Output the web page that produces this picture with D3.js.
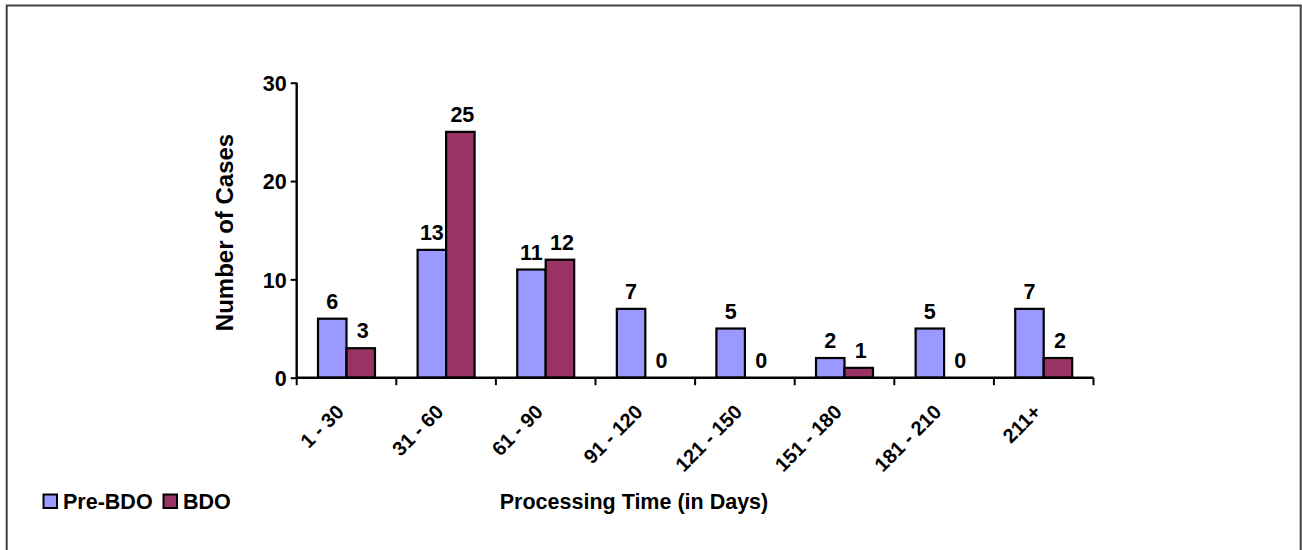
<!DOCTYPE html>
<html>
<head>
<meta charset="utf-8">
<script src="https://cdn.jsdelivr.net/npm/d3@7"></script>
<style>
  body { margin: 0; background: #fff; }
  text { font-family: "Liberation Sans", Arial, sans-serif; font-weight: bold; fill: #000; }
</style>
</head>
<body>
<div id="chart"></div>
<script>
// values
const categories = ["1 - 30", "31 - 60", "61 - 90", "91 - 120", "121 - 150", "151 - 180", "181 - 210", "211+"];
const seriesNames = ["Pre-BDO", "BDO"];
const preBDO = [6, 13, 11, 7, 5, 2, 5, 7];
const bdo = [3, 25, 12, 0, 0, 1, 0, 2];
const yTicks = [0, 10, 20, 30];

const width = 1302,
    height = 550;

const colors = { "Pre-BDO": "#9999FF", "BDO": "#993366" };

const rows = categories.map((c, i) => ({ cat: c, "Pre-BDO": preBDO[i], "BDO": bdo[i] }));

const svg = d3.select("#chart")
    .append("svg")
    .attr("width", width)
    .attr("height", height);

// frame
svg.append("rect")
    .attr("x", 6.7).attr("y", 5.5)
    .attr("width", 1294).attr("height", 600)
    .attr("fill", "none")
    .attr("stroke", "#404040")
    .attr("stroke-width", 2);

const plotLeft = 296.7, plotRight = 1093.5, plotTop = 82.7, plotBottom = 377.7;

const x0 = d3.scaleBand()
    .domain(categories)
    .range([plotLeft, plotRight])
    .paddingInner(0.428)
    .paddingOuter(0.214);

const x1 = d3.scaleBand()
    .domain(seriesNames)
    .range([0, x0.bandwidth()]);

const y = d3.scaleLinear()
    .domain([0, 30])
    .range([plotBottom, plotTop]);

// bars
const groups = svg.selectAll("g.grp")
    .data(rows)
    .enter()
    .append("g")
    .attr("class", "grp")
    .attr("transform", d => "translate(" + x0(d.cat) + ",0)");

groups.selectAll("rect")
    .data(d => seriesNames.map(s => ({ key: s, value: d[s] })).filter(e => e.value > 0))
    .enter()
    .append("rect")
    .attr("x", d => x1(d.key))
    .attr("y", d => y(d.value))
    .attr("width", x1.bandwidth())
    .attr("height", d => y(0) - y(d.value))
    .attr("fill", d => colors[d.key])
    .attr("stroke", "#000")
    .attr("stroke-width", 2.2);

// value labels
groups.selectAll("text.val")
    .data(d => seriesNames.map(s => ({ key: s, value: d[s] })))
    .enter()
    .append("text")
    .attr("class", "val")
    .attr("text-anchor", "middle")
    .style("font-size", "21.5px")
    .attr("x", d => x1(d.key) + x1.bandwidth() / 2 + (d.key === "BDO" ? 2 : 0))
    .attr("y", d => y(d.value) - 10)
    .text(d => d.value);

// y axis
const yAxis = svg.append("g")
    .attr("transform", "translate(" + plotLeft + ",0)")
    .call(d3.axisLeft(y).tickValues(yTicks).tickSize(6).tickPadding(4));
yAxis.select(".domain").attr("stroke", "#000").attr("stroke-width", 2.4).attr("d", "M0," + plotTop + "V" + plotBottom);
yAxis.selectAll(".tick line").attr("stroke", "#000").attr("stroke-width", 2);
yAxis.attr("font-family", null).attr("font-size", null);
yAxis.selectAll(".tick text")
    .attr("x", -10).attr("dy", null).attr("y", 7.8)
    .attr("fill", "#000")
    .style("font-size", "21.5px");

// x axis line and boundary ticks
const gap = (x0.step() - x0.bandwidth()) / 2;
const bounds = categories.map(c => x0(c) - gap).concat([plotRight]);
svg.append("line")
    .attr("x1", plotLeft).attr("x2", plotRight)
    .attr("y1", y(0)).attr("y2", y(0))
    .attr("stroke", "#000").attr("stroke-width", 2.4);
svg.selectAll("line.xt")
    .data(bounds)
    .enter()
    .append("line")
    .attr("class", "xt")
    .attr("x1", d => d).attr("x2", d => d)
    .attr("y1", y(0)).attr("y2", y(0) + 7.5)
    .attr("stroke", "#000").attr("stroke-width", 2);

// category labels
svg.selectAll("text.cat")
    .data(categories)
    .enter()
    .append("text")
    .attr("class", "cat")
    .attr("text-anchor", "end")
    .style("font-size", "20px")
    .attr("transform", d => "translate(" + (x0(d) + x0.bandwidth() / 2 - 1.5) + "," + (y(0) + 35.5) + ") rotate(-45)")
    .text(d => d);

// axis titles
svg.append("text")
    .attr("text-anchor", "middle")
    .style("font-size", "21.5px")
    .attr("x", 634).attr("y", 508.5)
    .text("Processing Time (in Days)");

svg.append("text")
    .attr("text-anchor", "middle")
    .style("font-size", "24px")
    .attr("transform", "translate(233.3,232.5) rotate(-90)")
    .text("Number of Cases");

// legend
const legX = [43.5, 163.5];
const legend = svg.selectAll("g.leg")
    .data(seriesNames)
    .enter()
    .append("g")
    .attr("class", "leg")
    .attr("transform", (d, i) => "translate(" + legX[i] + ",494.5)");
legend.append("rect")
    .attr("width", 13.5).attr("height", 13.5)
    .attr("fill", d => colors[d])
    .attr("stroke", "#000")
    .attr("stroke-width", 2);
legend.append("text")
    .style("font-size", "21.5px")
    .attr("x", 19.5).attr("y", 14)
    .text(d => d);
</script>
</body>
</html>
